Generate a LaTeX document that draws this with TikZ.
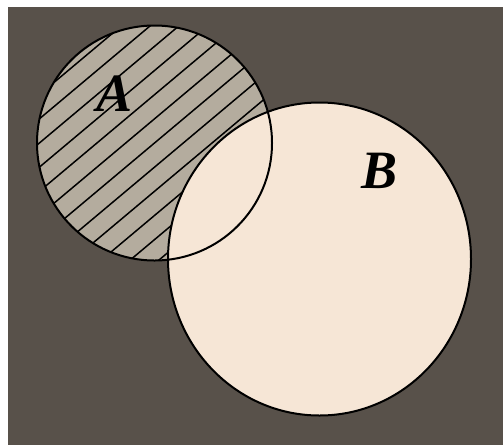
\documentclass[tikz,border=0pt]{standalone}
\usepackage{fontspec}
\usetikzlibrary{calc}
\setmainfont{Liberation Serif}
\definecolor{bg}{HTML}{58514A}
\definecolor{setA}{HTML}{B4AC9E}
\definecolor{setB}{HTML}{F6E6D6}
\begin{document}
\begin{tikzpicture}[x=1pt,y=-1pt, line join=round, line cap=round]
        \fill[white] (0,0) rectangle (503,445);
        \fill[bg] (8,7) rectangle (503,445);
        \coordinate (cA) at (154.5,143);
        \coordinate (cB) at (319.5,259);
        \fill[setA] (cA) circle (117.5);
        \begin{scope}
            \clip (cA) circle (117.5);
            \foreach \k in {-7,...,7}
                \draw[line width=1.5pt] ($(cA)+(\k*0.643*18.5,\k*0.766*18.5)+(-0.766*140,0.643*140)$) -- ++(0.766*280,-0.643*280);
        \end{scope}
        \fill[setB] (cB) ellipse [x radius=151.5, y radius=156.5];
        \draw[line width=2pt] (cB) ellipse [x radius=151.5, y radius=156.5];
        \draw[line width=2pt] (cA) circle (117.5);
        \node (labA) at (115,94) {\fontsize{54}{54}\selectfont\bfseries\itshape A};
        \node (labB) at (380,171) {\fontsize{54}{54}\selectfont\bfseries\itshape B};
\end{tikzpicture}
\end{document}
